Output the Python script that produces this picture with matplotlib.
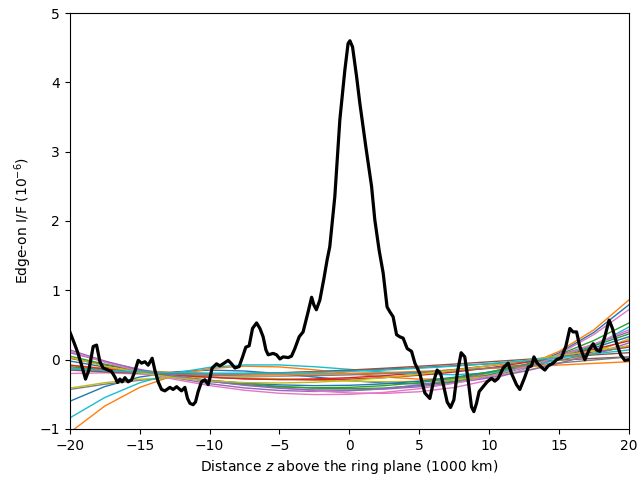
import matplotlib
matplotlib.use("Agg")
import matplotlib.pyplot as plt

# measured edge-on profile
z_profile = [
    -20.00, -19.69, -19.45, -19.16, -18.88, -18.64, -18.33, -18.09, -17.85, -17.62,
    -17.26, -17.02, -16.78, -16.59, -16.42, -16.26, -16.06, -15.83, -15.58, -15.35,
    -15.11, -14.87, -14.63, -14.40, -14.11, -13.92, -13.68, -13.44, -13.20, -12.84,
    -12.61, -12.36, -12.01, -11.77, -11.58, -11.41, -11.18, -11.01, -10.82, -10.58,
    -10.34, -10.10, -9.96, -9.82, -9.50, -9.27, -9.03, -8.67, -8.43, -8.19,
    -7.89, -7.64, -7.41, -7.17, -6.93, -6.64, -6.40, -6.17, -5.97, -5.81,
    -5.45, -5.21, -4.97, -4.74, -4.38, -4.14, -3.90, -3.59, -3.31, -2.95,
    -2.70, -2.54, -2.36, -2.11, -1.82, -1.59, -1.40, -1.04, -0.68, -0.32,
    -0.09, 0.04, 0.23, 0.52, 0.75, 1.18, 1.59, 1.82, 2.13, 2.42,
    2.70, 2.90, 3.13, 3.38, 3.61, 3.85, 4.14, 4.45, 4.69, 5.04,
    5.40, 5.76, 6.00, 6.28, 6.53, 6.76, 7.00, 7.24, 7.48, 7.72,
    8.00, 8.26, 8.50, 8.74, 8.91, 9.10, 9.29, 9.57, 9.86, 10.18,
    10.41, 10.65, 11.01, 11.36, 11.61, 11.96, 12.20, 12.56, 12.80, 13.04,
    13.21, 13.44, 13.75, 13.99, 14.23, 14.58, 14.83, 15.18, 15.49, 15.78,
    16.01, 16.26, 16.49, 16.85, 17.16, 17.45, 17.69, 17.93, 18.28, 18.59,
    18.83, 19.12, 19.41, 19.71, 20.00,
]
if_profile = [
    0.40, 0.24, 0.11, -0.08, -0.28, -0.15, 0.19, 0.21, -0.03, -0.12,
    -0.15, -0.17, -0.25, -0.33, -0.28, -0.32, -0.26, -0.32, -0.29, -0.17,
    -0.01, -0.05, -0.03, -0.08, 0.02, -0.15, -0.32, -0.43, -0.45, -0.40,
    -0.43, -0.39, -0.45, -0.40, -0.56, -0.63, -0.65, -0.61, -0.46, -0.32,
    -0.29, -0.36, -0.25, -0.12, -0.06, -0.09, -0.06, -0.01, -0.06, -0.12,
    -0.10, 0.04, 0.18, 0.20, 0.45, 0.53, 0.45, 0.33, 0.14, 0.07,
    0.09, 0.07, 0.01, 0.04, 0.03, 0.05, 0.16, 0.33, 0.40, 0.69,
    0.90, 0.79, 0.72, 0.86, 1.17, 1.44, 1.63, 2.35, 3.46, 4.18,
    4.56, 4.60, 4.51, 4.08, 3.70, 3.07, 2.50, 2.02, 1.58, 1.25,
    0.76, 0.69, 0.62, 0.36, 0.33, 0.31, 0.16, 0.12, -0.05, -0.20,
    -0.48, -0.56, -0.34, -0.15, -0.20, -0.39, -0.61, -0.69, -0.58, -0.20,
    0.10, 0.04, -0.29, -0.68, -0.75, -0.63, -0.46, -0.39, -0.32, -0.27,
    -0.31, -0.27, -0.12, -0.05, -0.20, -0.36, -0.43, -0.25, -0.11, -0.09,
    0.04, -0.05, -0.11, -0.15, -0.09, -0.05, 0.00, 0.03, 0.19, 0.45,
    0.40, 0.40, 0.19, 0.00, 0.14, 0.23, 0.14, 0.12, 0.33, 0.57,
    0.45, 0.24, 0.07, -0.01, 0.00,
]

# background fits, sampled on a common grid
z_fit = [-20.0, -17.5, -15.0, -12.5, -10.0, -7.5, -5.0, -2.5, 0.0,
         2.5, 5.0, 7.5, 10.0, 12.5, 15.0, 17.5, 20.0]
fit_curves = [
    [-0.60, -0.388, -0.251, -0.176, -0.151, -0.164, -0.201, -0.250, -0.300,
     -0.337, -0.350, -0.326, -0.251, -0.115, 0.096, 0.393, 0.79],
    [-1.05, -0.669, -0.400, -0.225, -0.129, -0.094, -0.105, -0.146, -0.200,
     -0.251, -0.281, -0.276, -0.219, -0.093, 0.118, 0.430, 0.86],
    [-0.102, -0.148, -0.198, -0.252, -0.303, -0.349, -0.387, -0.411, -0.420,
     -0.409, -0.374, -0.313, -0.221, -0.094, 0.071, 0.277, 0.528],
    [0.02, -0.078, -0.155, -0.212, -0.252, -0.276, -0.284, -0.278, -0.260,
     -0.231, -0.191, -0.143, -0.088, -0.026, 0.040, 0.109, 0.18],
    [0.14, -0.019, -0.153, -0.263, -0.347, -0.408, -0.445, -0.459, -0.450,
     -0.418, -0.365, -0.289, -0.193, -0.075, 0.063, 0.222, 0.40],
    [-0.13, -0.162, -0.184, -0.197, -0.202, -0.200, -0.192, -0.178, -0.160,
     -0.138, -0.114, -0.088, -0.061, -0.033, -0.007, 0.018, 0.04],
    [-0.20, -0.190, -0.207, -0.244, -0.294, -0.350, -0.405, -0.450, -0.480,
     -0.487, -0.463, -0.402, -0.296, -0.138, 0.079, 0.363, 0.72],
    [-0.43, -0.354, -0.298, -0.258, -0.232, -0.217, -0.209, -0.204, -0.200,
     -0.193, -0.181, -0.159, -0.125, -0.075, -0.007, 0.084, 0.20],
    [-0.41, -0.332, -0.283, -0.258, -0.252, -0.260, -0.276, -0.294, -0.310,
     -0.318, -0.313, -0.289, -0.241, -0.163, -0.051, 0.102, 0.30],
    [-0.84, -0.546, -0.334, -0.193, -0.111, -0.076, -0.076, -0.102, -0.140,
     -0.180, -0.209, -0.217, -0.192, -0.122, 0.004, 0.197, 0.47],
    [-0.02, -0.107, -0.183, -0.247, -0.300, -0.339, -0.364, -0.375, -0.370,
     -0.349, -0.310, -0.254, -0.178, -0.083, 0.033, 0.171, 0.33],
    [-0.08, -0.124, -0.159, -0.184, -0.201, -0.210, -0.213, -0.209, -0.200,
     -0.187, -0.169, -0.149, -0.127, -0.103, -0.078, -0.054, -0.03],
    [0.05, -0.065, -0.165, -0.248, -0.314, -0.362, -0.393, -0.406, -0.400,
     -0.375, -0.331, -0.266, -0.181, -0.076, 0.051, 0.199, 0.37],
    [-0.08, -0.135, -0.183, -0.223, -0.254, -0.276, -0.288, -0.290, -0.280,
     -0.259, -0.225, -0.179, -0.119, -0.044, 0.045, 0.149, 0.27],
    [0.10, -0.029, -0.140, -0.235, -0.312, -0.371, -0.413, -0.436, -0.440,
     -0.425, -0.391, -0.337, -0.263, -0.169, -0.054, 0.083, 0.24],
    [-0.15, -0.177, -0.195, -0.205, -0.206, -0.201, -0.189, -0.172, -0.150,
     -0.124, -0.095, -0.064, -0.031, 0.002, 0.036, 0.069, 0.10],
    [0.12, -0.037, -0.172, -0.285, -0.374, -0.441, -0.485, -0.504, -0.500,
     -0.472, -0.419, -0.341, -0.238, -0.110, 0.044, 0.224, 0.43],
    [-0.12, -0.159, -0.190, -0.213, -0.228, -0.236, -0.237, -0.231, -0.220,
     -0.203, -0.181, -0.154, -0.122, -0.087, -0.048, -0.005, 0.04],
    [0.03, -0.093, -0.189, -0.259, -0.306, -0.331, -0.337, -0.326, -0.300,
     -0.261, -0.211, -0.152, -0.087, -0.017, 0.056, 0.129, 0.20],
    [-0.13, -0.155, -0.174, -0.188, -0.195, -0.197, -0.194, -0.185, -0.170,
     -0.150, -0.124, -0.094, -0.057, -0.016, 0.031, 0.083, 0.14],
]

fig, ax = plt.subplots(figsize=(6.41, 4.82), dpi=100)
fig.subplots_adjust(left=0.109, right=0.981, bottom=0.110, top=0.973)

for curve in fit_curves:
    ax.plot(z_fit, curve, linewidth=1.0)

ax.plot(z_profile, if_profile, color="black", linewidth=2.3, zorder=5)

ax.set_xlim(-20, 20)
ax.set_ylim(-1, 5)
ax.set_xlabel("Distance $z$ above the ring plane (1000 km)")
ax.set_ylabel("Edge-on I/F ($10^{-6}$)")

fig.savefig("out.png", dpi=100)
